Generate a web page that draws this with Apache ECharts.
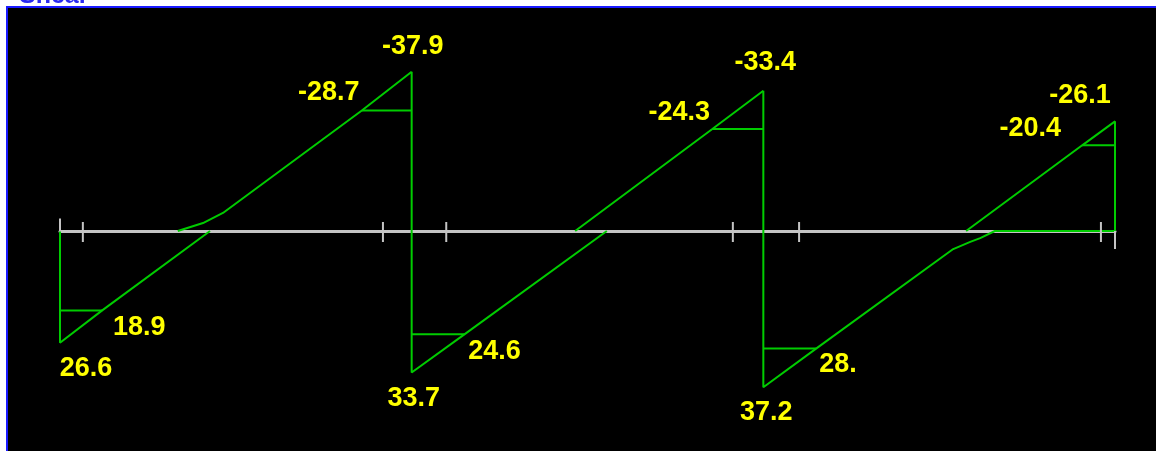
<!DOCTYPE html>
<html style="height: 100%">

<head>
    <meta charset="utf-8">
</head>

<body style="height: 100%; margin: 0; background: #fff">
    <div id="container" style="width: 1156px; height: 451px"></div>
    <script type="text/javascript" src="https://cdn.jsdelivr.net/npm/echarts@6/dist/echarts.min.js"></script>

    <script type="text/javascript">
        // shear diagram, 3 spans of 6 m; positive shear is drawn below the axis
        var lower1 = [[0, 0], [0, 26.6], [0.72, 18.9], [2.56, 0]];
        var upper1 = [[2.01, 0], [2.44, -1.9], [2.78, -4.3], [5.15, -28.7], [6, -37.9]];
        var lower2 = [[6, -37.9], [6, 33.7], [6.9, 24.6], [9.33, 0]];
        var upper2 = [[8.79, 0], [11.13, -24.3], [12, -33.4]];
        var lower3 = [[12, -33.4], [12, 37.2], [12.9, 28.0], [15.24, 4.3], [15.53, 2.6], [15.7, 1.7], [15.95, 0], [18, 0]];
        var upper3 = [[15.46, 0], [17.44, -20.4], [18, -26.1], [18, 0]];

        // horizontal hatch marks at the face of supports
        var steps = [
            [[0, 18.9], [0.72, 18.9]],
            [[5.15, -28.7], [6, -28.7]],
            [[6, 24.6], [6.9, 24.6]],
            [[11.13, -24.3], [12, -24.3]],
            [[12, 28.0], [12.9, 28.0]],
            [[17.44, -20.4], [18, -20.4]]
        ];

        var tickX = [0.39, 5.51, 6.59, 11.48, 12.61, 17.76];
        var startTick = [0];
        var endTick = [18];

        var labelPoints = [[0, 26.6], [0.72, 18.9], [6, -37.9], [5.15, -28.7], [6, 33.7], [6.9, 24.6],
            [12, -33.4], [11.13, -24.3], [12, 37.2], [12.9, 28.0], [18, -26.1], [17.44, -20.4]];
        var labelTexts = ['26.6', '18.9', '-37.9', '-28.7', '33.7', '24.6',
            '-33.4', '-24.3', '37.2', '28.', '-26.1', '-20.4'];
        // pixel shift of each label from its point
        var labelShift = [[26, 26], [37, 17], [1, -25], [-33, -18], [2, 26], [30, 17],
            [2, -28], [-33, -16], [3, 25], [22, 16], [-35, -26], [-52, -17]];

        var green = '#00cc00';
        var grey = '#c4c4c4';

        var dom = document.getElementById("container");
        var myChart = echarts.init(dom);

        function shearLine(data) {
            return {
                type: 'line',
                data: data,
                showSymbol: false,
                clip: false,
                z: 2,
                lineStyle: { color: green, width: 2 }
            };
        }

        function tickSeries(xs, h, dy) {
            return {
                type: 'scatter',
                data: xs.map(function (x) { return [x, 0]; }),
                symbol: 'rect',
                symbolSize: [2, h],
                symbolOffset: [0, dy],
                itemStyle: { color: grey, opacity: 1 },
                z: 3
            };
        }

        var series = [lower1, upper1, lower2, upper2, lower3, upper3].map(shearLine)
            .concat(steps.map(shearLine));
        series.push(tickSeries(tickX, 20, 1));
        series.push(tickSeries(startTick, 13, -6));
        series.push(tickSeries(endTick, 18, 9));
        series.push({
            type: 'scatter',
            symbolSize: 0,
            z: 4,
            itemStyle: { opacity: 1 },
            data: labelPoints.map(function (p, i) {
                return {
                    value: p,
                    label: {
                        show: true,
                        position: 'inside',
                        offset: labelShift[i],
                        formatter: labelTexts[i]
                    }
                };
            }),
            label: {
                color: '#ffff00',
                fontFamily: 'Liberation Sans',
                fontWeight: 'bold',
                fontSize: 27
            }
        });

        var option = {
            animation: false,
            backgroundColor: '#fff',
            graphic: [{
                type: 'rect',
                z: -10,
                silent: true,
                shape: { x: 7, y: 7, width: 1160, height: 460 },
                style: { fill: '#000', stroke: '#1a1aff', lineWidth: 2 }
            }, {
                type: 'text',
                silent: true,
                x: 19,
                y: 9,
                style: {
                    text: 'Shear',
                    fill: '#2a2af0',
                    font: 'bold 25px "Liberation Sans"',
                    verticalAlign: 'bottom'
                }
            }],
            grid: { left: 60, right: 41, top: 21, bottom: 10 },
            xAxis: {
                type: 'value',
                min: 0,
                max: 18,
                axisLine: { onZero: true, lineStyle: { color: grey, width: 3 } },
                axisTick: { show: false },
                axisLabel: { show: false },
                splitLine: { show: false }
            },
            yAxis: {
                type: 'value',
                min: -50,
                max: 50,
                inverse: true,
                show: false,
                splitLine: { show: false }
            },
            series: series
        };

        myChart.setOption(option);
    </script>
</body>

</html>
